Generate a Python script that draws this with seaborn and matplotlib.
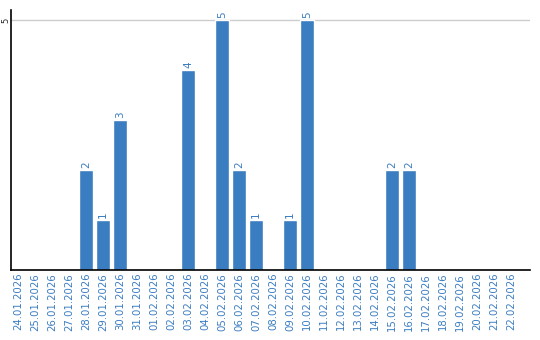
import matplotlib
matplotlib.use("Agg")
import matplotlib.pyplot as plt
import seaborn as sns
import pandas as pd

dates = ["24.01.2026", "25.01.2026", "26.01.2026", "27.01.2026", "28.01.2026", "29.01.2026",
         "30.01.2026", "31.01.2026", "01.02.2026", "02.02.2026", "03.02.2026", "04.02.2026",
         "05.02.2026", "06.02.2026", "07.02.2026", "08.02.2026", "09.02.2026", "10.02.2026",
         "11.02.2026", "12.02.2026", "13.02.2026", "14.02.2026", "15.02.2026", "16.02.2026",
         "17.02.2026", "18.02.2026", "19.02.2026", "20.02.2026", "21.02.2026", "22.02.2026"]
values = [0, 0, 0, 0, 2, 1, 3, 0, 0, 0, 4, 0, 5, 2, 1, 0, 1, 5, 0, 0, 0, 0, 2, 2, 0, 0, 0, 0, 0, 0]

blue = "#3b7dc1"
sns.set_style("white")
df = pd.DataFrame({"date": dates, "value": values})

fig = plt.figure(figsize=(5.4, 3.4), dpi=100)
ax = fig.add_axes([11/540, 70/340, 519/540, 260/340])
sns.barplot(data=df, x="date", y="value", color=blue, saturation=1, width=0.82, ax=ax)

for i, v in enumerate(values):
    if v > 0:
        ax.text(i, v + 0.04, str(v), rotation=90, ha="center", va="bottom",
                fontsize=7.5, color=blue)

ax.set_ylim(0, 5.2)
ax.set_xlim(-0.41, 30.1)
ax.set_yticks([5])
ax.set_yticklabels(["5"], rotation=90, va="center", ha="center", fontsize=6)
ax.yaxis.grid(True, color="#cccccc", linewidth=1)
ax.set_axisbelow(True)
ax.tick_params(axis="both", length=0, pad=2)
ax.tick_params(axis="y", pad=4)
ax.set_xticks(range(len(dates)))
ax.set_xticklabels(dates, rotation=90, fontsize=7.3, color=blue)
ax.set_xlabel("")
ax.set_ylabel("")
for s in ["top", "right"]:
    ax.spines[s].set_visible(False)
for s in ["left", "bottom"]:
    ax.spines[s].set_color("black")
    ax.spines[s].set_linewidth(1.2)

fig.savefig("out.png", dpi=100)
